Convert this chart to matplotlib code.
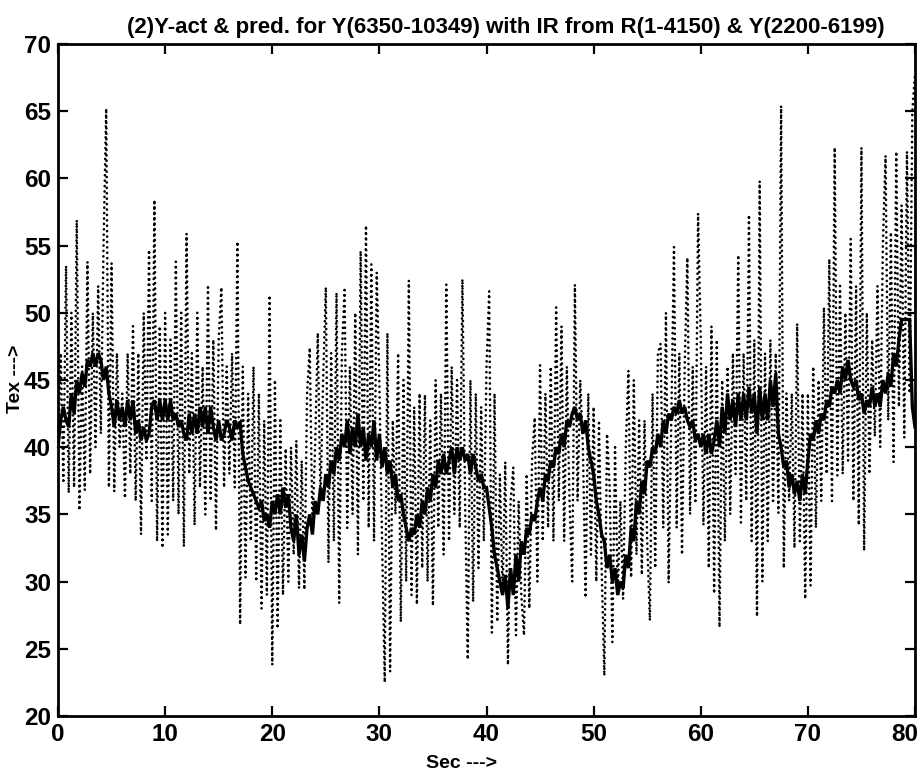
import numpy as np
import matplotlib
matplotlib.use('Agg')
import matplotlib.pyplot as plt
from matplotlib.transforms import ScaledTranslation

plt.rcParams['font.family'] = ['Liberation Sans', 'DejaVu Sans']

title = '(2)Y-act & pred. for Y(6350-10349) with IR from R(1-4150) & Y(2200-6199)'
x_label = 'Sec --->'
y_label = 'Tex --->'
x_ticks = [0, 10, 20, 30, 40, 50, 60, 70, 80]
y_ticks = [20, 25, 30, 35, 40, 45, 50, 55, 60, 65, 70]

actual = [
    40,47,37.5,53.5,36.6,50,37,56.9,35.3,46,36.8,53.8,38,50,40,52,41,55,65.2,37,
    53.7,36.7,47,40,44,36.2,47,38,49,36,47,33.5,50,39,54.7,36,58.4,33,49,32.5,
    50,33.5,48,36,53.8,35,50,32.6,55.9,38,47,34.2,50,37,46,35,51.9,36,48,33.8,
    48,51.9,37,46,38,47,37,55.3,26.8,46,30.3,44,33,46,30,44,28,42,29,51.3,
    23.8,45,26.5,42,29,39.9,30,40,32,40.5,29.5,39,29.4,44,47.4,34,40,48.5,36,45,
    51.9,31.4,47,33,51.5,28.4,47,51.7,34,46,35,50,32,54.6,36,56.5,34,53.6,33,53,
    44.8,33,22.5,48.5,23.3,42,35,47,27,45,30,52.4,29,43,28.3,44,31,43.9,30,42,
    28.2,45,34,44,32,52.1,33,46,35,45,34,52.5,36,24.2,45,28.5,44,31,43,33,
    46,51.6,26.2,44,27,38,29,38.9,23.8,36,38.5,26,36,29,26,38,28,39,42.2,30,
    46.1,33,44,34,46,33,50.4,36,49,33,46,36,30,52.1,36,45,40,28.8,44,32,
    43,30,41.8,31,23,41,37,25.5,40,29,36,28.7,40,45.7,30.3,45,32,42,30.5,42,
    33,27.1,44,31,47,47.7,34,50,29.9,42,54.9,34,47,32,46,54.1,35,46,36,57.4,
    48,34.2,46,31,49,29.1,48,26.6,45,33,46,35,47,38,54.3,34.4,47,36,57.3,33,
    48,27.4,59.8,30,47,33,48,36,47,35.1,65.4,31,44,36,44,32.5,49.2,33,44,28.7,
    44,29.7,46,34,45,36,50.4,38,54,36,62.3,37.9,52,38,50,39,55.5,36,52,34.2,
    62.3,32.3,50,38,48,40.8,52,40,55,61.7,42,56,38.9,62,43,58,40.7,62,44,65,67.8,
]
predicted = [
    40,42,43,42,41.5,44,42.5,45,44,45.5,44.5,46.5,46,47,46,47,46.5,45,46,44,
    43,41.5,43.5,42,43,41.5,43.5,42,43.5,41,42,40.5,41.5,40.5,41,43,43.5,42,43.5,42,
    43.5,42,43.5,42,42.5,41.5,42,41,40.5,42.5,41,42.5,41,43,41.5,43,41,43,41.5,40.5,
    42,40.5,41,42,41.5,40.5,42,41.5,41.8,39.5,38.5,37.5,37,36.5,36,35.5,36,34.5,35,34,
    36,35,36.5,35,37,35.5,36.5,34,33,35,32,33.5,31.5,34,35,33.5,36,35,37,36,
    38,37,39,38,40,39,41,40,42,39.5,41.5,40,42.5,40,41.5,39,41,40,42,39,
    41,38.5,40,38,39,37,38,36,36.5,35,34,33,34,33.5,35,34,36,35,37,36,
    38,37,39,38,39.5,38,39,40,38,40,39,40,39,39.5,38,39.5,38.5,37.5,38,37,
    37,35.5,34,32,31,30,29,30.5,28,31,29,32,30,33,32,34,33.5,35,34.5,36,
    37,36,38,37.5,39,38.5,40,39.5,41,40,42,41.5,42.5,43,42,42.5,41,42,40,39,
    38,36,35,33.5,33,31,32,30,31,29,30,29.5,32,31,34,33,36,35,37.5,36.5,
    39,38.5,40,39.5,41,40,42,41,42.5,42,43,42.5,43.5,42.5,43,42,41.5,42,40.5,41,
    40,41,39.5,41,39.5,40.5,42,40,43,41,44,42,43.5,41.5,44,42,44,42,44.5,42.5,
    44,41,44.5,42,44,42,45,43,45.5,41,40,38.5,39,37,38,36.5,37.5,36,38,36.5,
    39,41,40.5,42,41,42.5,42,43.5,43,44.5,44,45,44,46,45,46.5,45,44.5,45,43.5,
    44,42.5,43.5,43,44.5,43,44,43,45,44,45.5,44.5,47,46,48,49.5,49.5,49.5,49.5,43,41.5,
]

t_act = np.linspace(0, 80, len(actual))
t_pred = np.linspace(0, 80, len(predicted))

fig = plt.figure(figsize=(9.23, 7.76), dpi=100)
ax = fig.add_axes([58/923, 1-716/776, (915-58)/923, (716-44)/776])
ax.plot(t_act, actual, color='black', lw=1.9, linestyle=(0, (0.05, 2.0)),
        dash_capstyle='round', clip_on=False)
ax.plot(t_pred, predicted, color='black', lw=2.4, solid_joinstyle='miter')
ax.set_xlim(0, 80)
ax.set_ylim(20, 70)
ax.set_xticks(x_ticks)
ax.set_yticks(y_ticks)
ax.tick_params(direction='in', top=True, right=True, length=7, width=1.6, labelsize=17.5, pad=5)
for lab in ax.get_xticklabels() + ax.get_yticklabels():
    lab.set_fontweight('bold')
last = ax.get_xticklabels()[-1]
last.set_transform(last.get_transform() + ScaledTranslation(-10/100, 0, fig.dpi_scale_trans))
for s in ax.spines.values():
    s.set_linewidth(2)
fig.text(506/923, 1-28/776, title, ha='center', va='center', fontsize=16, fontweight='bold')
fig.text(462/923, 1-763/776, x_label, ha='center', va='center', fontsize=14, fontweight='bold')
fig.text(16/923, 1-379/776, y_label, rotation=90, ha='center', va='center', fontsize=14, fontweight='bold')
fig.savefig('out.png', dpi=100)
